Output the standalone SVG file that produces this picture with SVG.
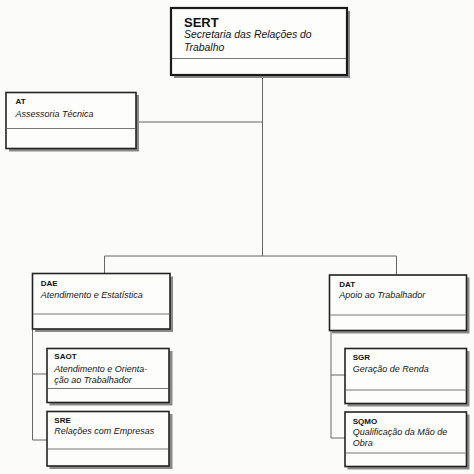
<svg xmlns="http://www.w3.org/2000/svg" width="474" height="474" viewBox="0 0 474 474">
<style>
.bg{fill:#fbfbfa}
.shadow{fill:#8a8a8a}
.box{fill:#fdfdfc;stroke:#222;stroke-width:1.6}
.boxb{fill:#fdfdfc;stroke:#1a1a1a;stroke-width:2.2}
.div{stroke:#777;stroke-width:1;fill:none}
.conn line{stroke:#666;stroke-width:1}
.code{font-family:"Liberation Sans",Arial,sans-serif;font-weight:bold;font-size:8px;fill:#111}
.name{font-family:"Liberation Sans",Arial,sans-serif;font-style:italic;font-size:9px;fill:#151515}
.codeL{font-family:"Liberation Sans",Arial,sans-serif;font-weight:bold;font-size:13px;fill:#111}
.nameL{font-family:"Liberation Sans",Arial,sans-serif;font-style:italic;font-size:10.4px;fill:#151515}
</style>
<rect class="bg" width="474" height="474"/>
<g id="connectors" class="conn">
<line x1="262.5" y1="75" x2="262.5" y2="256"/>
<line x1="136" y1="122" x2="262.5" y2="122"/>
<line x1="104.5" y1="256" x2="396.5" y2="256"/>
<line x1="104.5" y1="256" x2="104.5" y2="274"/>
<line x1="396.5" y1="256" x2="396.5" y2="275"/>
<line x1="32.5" y1="329" x2="32.5" y2="440"/>
<line x1="32.5" y1="374" x2="47" y2="374"/>
<line x1="32.5" y1="440" x2="47" y2="440"/>
<line x1="331" y1="331" x2="331" y2="438"/>
<line x1="331" y1="375" x2="345" y2="375"/>
<line x1="331" y1="438" x2="345" y2="438"/>
</g>
<g id="SERT">
<rect class="shadow" x="174" y="11" width="176" height="67"/>
<rect class="boxb" x="171" y="8" width="176" height="67"/>
<line class="div" x1="172" y1="58.5" x2="346" y2="58.5"/>
<text class="codeL" x="184" y="26.5">SERT</text>
<text class="nameL" x="184" y="38">Secretaria das Relações do</text>
<text class="nameL" x="184" y="50.5">Trabalho</text>
</g>
<g id="AT">
<rect class="shadow" x="9" y="95" width="130" height="56.5"/>
<rect class="box" x="6" y="92.5" width="130" height="56"/>
<line class="div" x1="6.8" y1="128.5" x2="135.2" y2="128.5"/>
<text class="code" x="15.5" y="104.3">AT</text>
<text class="name" x="15.5" y="117">Assessoria Técnica</text>
</g>
<g id="DAE">
<rect class="shadow" x="35" y="276.5" width="138" height="55.5"/>
<rect class="box" x="32.5" y="273.5" width="137.5" height="55.5"/>
<line class="div" x1="33.3" y1="314" x2="169.2" y2="314"/>
<text class="code" x="40.7" y="285.7">DAE</text>
<text class="name" x="40.7" y="297.5">Atendimento e Estatística</text>
</g>
<g id="SAOT">
<rect class="shadow" x="49.5" y="351" width="123" height="54.5"/>
<rect class="box" x="47" y="348.5" width="122" height="54"/>
<line class="div" x1="47.8" y1="388.5" x2="168.2" y2="388.5"/>
<text class="code" x="54.3" y="359.3">SAOT</text>
<text class="name" x="54.3" y="372.3">Atendimento e Orienta-</text>
<text class="name" x="54.3" y="382.5">ção ao Trabalhador</text>
</g>
<g id="SRE">
<rect class="shadow" x="49.5" y="414" width="123" height="55"/>
<rect class="box" x="47" y="411.5" width="122" height="54.5"/>
<line class="div" x1="47.8" y1="449" x2="168.2" y2="449"/>
<text class="code" x="54.3" y="423.3">SRE</text>
<text class="name" x="54.3" y="434">Relações com Empresas</text>
</g>
<g id="DAT">
<rect class="shadow" x="332" y="277.5" width="137.5" height="56"/>
<rect class="box" x="329.5" y="275" width="137" height="55.5"/>
<line class="div" x1="330.3" y1="315" x2="465.7" y2="315"/>
<text class="code" x="339.3" y="286.7">DAT</text>
<text class="name" x="339.3" y="297.7">Apoio ao Trabalhador</text>
</g>
<g id="SGR">
<rect class="shadow" x="347.5" y="351" width="122" height="55.5"/>
<rect class="box" x="345" y="348.5" width="121.5" height="55"/>
<line class="div" x1="345.8" y1="390" x2="465.7" y2="390"/>
<text class="code" x="352.7" y="360">SGR</text>
<text class="name" x="352.7" y="371.7">Geração de Renda</text>
</g>
<g id="SQMO">
<rect class="shadow" x="347.5" y="414.5" width="122" height="55"/>
<rect class="box" x="345" y="412" width="121.5" height="54.5"/>
<line class="div" x1="345.8" y1="453" x2="465.7" y2="453"/>
<text class="code" x="352.7" y="424">SQMO</text>
<text class="name" x="352.7" y="434.5">Qualificação da Mão de</text>
<text class="name" x="352.7" y="445.5">Obra</text>
</g>
</svg>
